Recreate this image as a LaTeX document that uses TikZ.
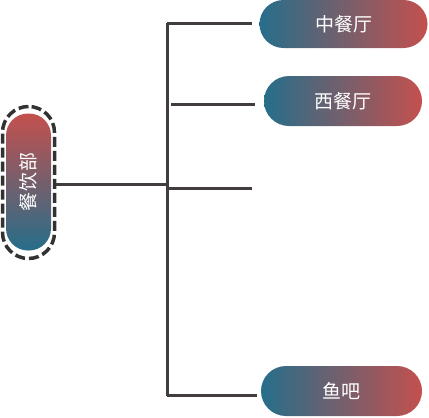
\documentclass[tikz,border=0pt]{standalone}
\usepackage{fontspec}
\newfontfamily\cjk{Noto Sans CJK SC}
\definecolor{tealc}{RGB}{38,110,138}
\definecolor{redc}{RGB}{196,80,78}
\definecolor{linec}{RGB}{64,60,64}
\definecolor{dashc}{RGB}{50,50,50}
\begin{document}
\begin{tikzpicture}[x=1pt,y=-1pt,
  pill/.style={left color=tealc,right color=redc,rounded corners=24pt,
    minimum height=48pt,text=white,font=\cjk\fontsize{19}{19}\selectfont,inner sep=0pt},
  conn/.style={draw=linec,line width=3pt}]
\useasboundingbox (0,0) rectangle (429,418);
% root
\node[top color=redc,bottom color=tealc,rounded corners=22pt,minimum width=45pt,minimum height=137pt,inner sep=0pt] (root) at (28.5,182) {};
\node[rotate=90,text=white,font=\cjk\fontsize{19}{19}\selectfont] (roottext) at (root.center) {餐\kern1pt 饮\kern1pt 部};
\node[draw=dashc,dashed,dash pattern=on 10pt off 4pt,line width=3.5pt,rounded corners=26pt,minimum width=52pt,minimum height=152pt,inner sep=0pt] (rootframe) at (28.5,182.5) {};
% children
\node[pill,minimum width=168pt] (c1) at (343.5,24) {中餐厅};
\node[pill,minimum width=158pt,minimum height=50pt,rounded corners=25pt] (c2) at (343,101) {西餐厅};
\node[pill,minimum width=161pt,minimum height=50pt,rounded corners=25pt] (c4) at (341.5,391) {鱼吧};
% trunk
\coordinate (t1) at (167,23);
\coordinate (tm) at (167,184);
\coordinate (t2) at (167,396);
\coordinate (b2) at (171,104);
\coordinate (e2) at (255,104);
\coordinate (e3) at (252,188);
\coordinate (b3) at (167,188);
\draw[conn] (t1) -- (t2);
\draw[conn] (rootframe.east |- tm) -- (tm);
\draw[conn] (t1) -- ([xshift=-7pt]c1.west |- t1);
\draw[conn] (b2) -- (e2);
\draw[conn] (b3) -- (e3);
\draw[conn] (t2 |- c4.west) ++(0,4) coordinate (t4) -- ([xshift=-4pt]c4.west |- t4);
\end{tikzpicture}
\end{document}
